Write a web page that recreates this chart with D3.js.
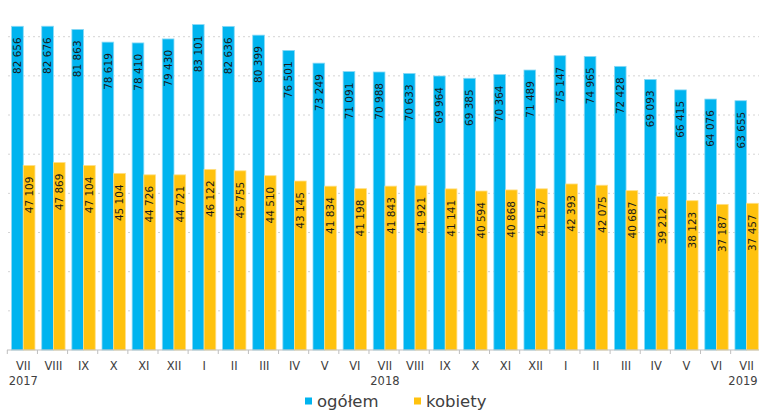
<!DOCTYPE html>
<html>
<head>
<meta charset="utf-8">
<script src="https://cdn.jsdelivr.net/npm/d3@7"></script>
<style>
  body { margin: 0; background: #fff; }
  text { font-family: "DejaVu Sans", sans-serif; }
</style>
</head>
<body>
<div id="chart"></div>
<script>
var months = ['VII', 'VIII', 'IX', 'X', 'XI', 'XII', 'I', 'II', 'III', 'IV', 'V', 'VI',
              'VII', 'VIII', 'IX', 'X', 'XI', 'XII', 'I', 'II', 'III', 'IV', 'V', 'VI', 'VII'];
var years = [{idx: 0, label: '2017'}, {idx: 12, label: '2018'}, {idx: 24, label: '2019'}];
var ogolem = [82656, 82676, 81863, 78619, 78410, 79430, 83101, 82636, 80399, 76501, 73249, 71091,
              70988, 70633, 69964, 69385, 70364, 71489, 75147, 74965, 72428, 69093, 66415, 64076, 63655];
var kobiety = [47109, 47869, 47104, 45104, 44726, 44721, 46122, 45755, 44510, 43145, 41834, 41198,
               41843, 41921, 41141, 40594, 40868, 41157, 42393, 42075, 40687, 39212, 38123, 37187, 37457];
var seriesNames = ['ogółem', 'kobiety'];
var gridTicks = [10000, 20000, 30000, 40000, 50000, 60000, 70000, 80000];

var width = 759, height = 412,
    colors = {'ogółem': '#00b4ef', 'kobiety': '#ffc20e'},
    strokes = {'ogółem': '#8bd9f5', 'kobiety': '#ffdf85'};

var svg = d3.select('#chart').append('svg')
    .attr('width', width)
    .attr('height', height);

var x0 = d3.scaleBand()
    .domain(d3.range(months.length))
    .range([8.2, 761.7])
    .paddingInner(0.225)
    .paddingOuter(0.1125);

var x1 = d3.scaleBand()
    .domain(seriesNames)
    .range([0, x0.bandwidth()]);

var y = d3.scaleLinear()
    .domain([0, 80000])
    .range([350, 36.7]);

// dotted gridlines
svg.append('g').selectAll('line')
    .data(gridTicks)
    .enter().append('line')
    .attr('x1', 8).attr('x2', width)
    .attr('y1', function(d) { return y(d); })
    .attr('y2', function(d) { return y(d); })
    .attr('stroke', '#d4d4d4')
    .attr('stroke-width', 1)
    .attr('stroke-dasharray', '2,3');

var rows = months.map(function(m, i) {
    return {i: i, values: [
        {name: 'ogółem', value: ogolem[i]},
        {name: 'kobiety', value: kobiety[i]}
    ]};
});

var groups = svg.append('g').selectAll('.group')
    .data(rows)
    .enter().append('g')
    .attr('class', 'group')
    .attr('transform', function(d) { return 'translate(' + x0(d.i) + ',0)'; });

var bars = groups.selectAll('g')
    .data(function(d) { return d.values; })
    .enter().append('g');

bars.append('rect')
    .attr('x', function(d) { return x1(d.name); })
    .attr('y', function(d) { return y(d.value); })
    .attr('width', x1.bandwidth())
    .attr('height', function(d) { return y(0) - y(d.value); })
    .attr('fill', function(d) { return colors[d.name]; })
    .attr('stroke', function(d) { return strokes[d.name]; })
    .attr('stroke-width', 0.8);

var fmt = function(v) { return d3.format(',')(v).replace(/,/g, ' '); };

bars.append('text')
    .attr('transform', function(d) {
        return 'translate(' + (x1(d.name) + x1.bandwidth() / 2) + ',' + (y(d.value) + 11) + ') rotate(-90)';
    })
    .attr('dy', '0.36em')
    .style('text-anchor', 'end')
    .style('font-size', '10.5px')
    .attr('fill', '#1a1a1a')
    .text(function(d) { return fmt(d.value); });

// x axis
var xAxis = svg.append('g').attr('transform', 'translate(0,350)');
xAxis.append('line')
    .attr('x1', 7).attr('x2', width)
    .attr('stroke', '#bfbfbf');
xAxis.selectAll('.tick')
    .data(d3.range(months.length + 1))
    .enter().append('line')
    .attr('x1', function(i) { return 8.2 + i * x0.step() - 0.9; })
    .attr('x2', function(i) { return 8.2 + i * x0.step() - 0.9; })
    .attr('y1', 0).attr('y2', 4)
    .attr('stroke', '#bfbfbf');
xAxis.selectAll('.month')
    .data(months)
    .enter().append('text')
    .attr('x', function(d, i) { return x0(i) + x0.bandwidth() / 2; })
    .attr('y', 19.5)
    .style('text-anchor', 'middle')
    .style('font-size', '11.5px')
    .attr('fill', '#404040')
    .text(function(d) { return d; });
// the last year label would run past the right edge, so it is clamped inside
xAxis.selectAll('.year')
    .data(years)
    .enter().append('text')
    .attr('x', function(d) { return Math.min(x0(d.idx) + x0.bandwidth() / 2, width - 16); })
    .attr('y', 34.5)
    .style('text-anchor', 'middle')
    .style('font-size', '11.5px')
    .attr('fill', '#404040')
    .text(function(d) { return d.label; });

// legend
var legendX = [305, 414];
var legend = svg.append('g').selectAll('.legend')
    .data(seriesNames)
    .enter().append('g')
    .attr('class', 'legend')
    .attr('transform', function(d, i) { return 'translate(' + legendX[i] + ',0)'; });
legend.append('rect')
    .attr('y', 397.5)
    .attr('width', 7).attr('height', 7)
    .attr('fill', function(d) { return colors[d]; });
legend.append('text')
    .attr('x', 12)
    .attr('y', 407)
    .style('font-size', '16.5px')
    .attr('fill', '#404040')
    .text(function(d) { return d; });
</script>
</body>
</html>
